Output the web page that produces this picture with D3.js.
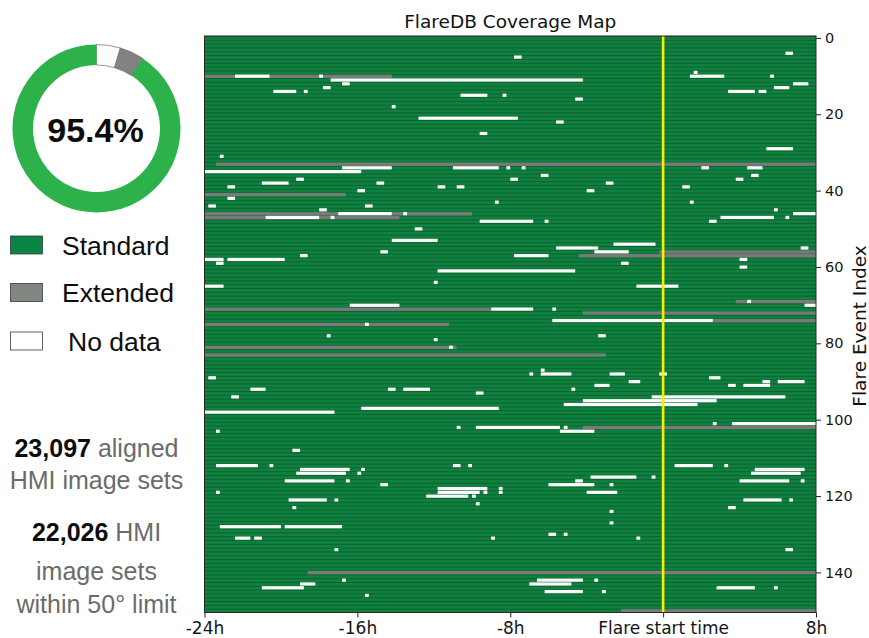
<!DOCTYPE html>
<html>
<head>
<meta charset="utf-8">
<script src="https://cdn.jsdelivr.net/npm/d3@7"></script>
<style>
  html, body { margin: 0; padding: 0; background: #ffffff; }
  svg { display: block; }
</style>
</head>
<body>
<script>
// ---- Coverage data -------------------------------------------------------
const rowCount = 151;                 // flare events, index 0..150
const hourDomain = [-24, 8];          // hours relative to flare start

const xTickValues = [-24, -16, -8, 0, 8];
const xTickLabels = ["-24h", "-16h", "-8h", "Flare start time", "8h"];
const yTickValues = [0, 20, 40, 60, 80, 100, 120, 140];

// [event index, start hour, end hour] — extended-window coverage
const extendedSegments = [
  [10, -24, -14.2],
  [33, -23.4, 8],
  [41, -24, -16.6],
  [46, -24, -10.0],
  [47, -24, -13.8],
  [56, -0.2, 8],
  [57, -4.4, 8],
  [69, 3.8, 8],
  [71, -24, -9.0],
  [72, -4.2, 8],
  [74, 2.6, 8],
  [75, -24, -11.2],
  [81, -24, -10.8],
  [83, -24, -3.0],
  [102, -4.2, 8],
  [140, -18.6, 8],
  [150, -2.2, 8]
];

// [event index, start hour, end hour] — gaps with no data
const noDataSegments = [
  [4, 6.4, 6.8],
  [5, -7.8, -7.4],
  [9, 1.6, 1.8],
  [10, -22.4, -20.6], [10, -18.0, -17.8], [10, 1.4, 3.2], [10, 5.6, 5.8],
  [11, -17.4, -4.2],
  [12, -16.8, -16.4], [12, 6.8, 7.6],
  [13, -17.8, -17.4], [13, 5.8, 6.6],
  [14, -20.4, -19.2], [14, -18.8, -18.6], [14, 3.4, 4.8], [14, 5.0, 5.4],
  [15, -10.6, -9.2], [15, -8.4, -8.2],
  [16, -4.6, -4.2],
  [18, -14.2, -14.0],
  [21, -12.8, -7.6],
  [22, -5.6, -5.2],
  [25, -9.6, -9.2],
  [29, 5.4, 6.8],
  [31, -23.2, -23.0],
  [34, -16.8, -14.2], [34, -11.0, -8.6], [34, -8.2, -8.0], [34, -7.4, -7.2], [34, 2.0, 2.4], [34, 4.4, 5.2],
  [35, -24, -15.8],
  [36, -6.4, -6.0], [36, 4.6, 5.0],
  [37, -19.2, -18.8], [37, -8.0, -7.6], [37, 3.8, 4.2],
  [38, -21.0, -19.6], [38, -15.0, -14.6], [38, -3.0, -2.6],
  [39, -22.8, -22.4], [39, -11.8, -11.4], [39, -10.8, -10.4], [39, 1.0, 1.4],
  [40, -16.0, -15.6], [40, -4.0, -3.6],
  [42, -22.8, -22.4],
  [43, -8.8, -8.6], [43, 1.4, 1.6],
  [44, -23.8, -23.4], [44, -15.6, -15.2],
  [45, -18.0, -17.6], [45, 5.8, 6.0],
  [46, -17.0, -14.2], [46, -13.6, -13.4], [46, 6.8, 8],
  [47, -20.8, -18.0], [47, -17.4, -17.2], [47, 3.0, 5.8], [47, 6.4, 6.6],
  [48, -9.6, -6.8], [48, -6.2, -6.0], [48, 2.4, 2.8],
  [50, -13.0, -12.6],
  [53, -14.2, -11.8],
  [54, -2.6, -0.4],
  [55, -5.6, -3.4], [55, 7.2, 7.6],
  [56, -14.8, -14.4], [56, -3.6, -1.8],
  [57, -19.0, -18.6], [57, -7.8, -6.0],
  [58, -24, -23.0], [58, -22.8, -19.8], [58, 4.0, 4.4],
  [59, -23.4, -23.0], [59, -2.2, -1.8],
  [60, 4.0, 4.4],
  [61, -11.8, -4.6],
  [64, -12.0, -11.8],
  [65, -24, -23.0], [65, -1.4, 0.8],
  [69, 4.4, 4.6],
  [70, -16.4, -13.8], [70, 7.4, 8],
  [71, -9.0, -6.8], [71, -5.8, -5.6],
  [74, -5.8, 2.6],
  [75, -15.6, -15.4],
  [78, -17.6, -17.4], [78, -3.4, -3.0],
  [79, -12.0, -11.8],
  [81, -11.2, -11.0],
  [87, -6.4, -6.2],
  [88, -7.0, -6.8], [88, -6.4, -4.8], [88, -2.8, -2.0], [88, -0.2, 0.2],
  [89, -23.8, -23.4], [89, 2.4, 3.0],
  [90, -1.8, -1.2], [90, 5.2, 5.6], [90, 6.0, 7.4],
  [91, -3.6, -2.8], [91, 3.4, 3.8], [91, 4.2, 5.6],
  [92, -21.6, -20.8], [92, -14.4, -14.0], [92, -13.6, -12.2], [92, -4.8, -4.6],
  [93, -9.8, -9.4],
  [94, -22.6, -22.2], [94, -0.6, 6.4],
  [95, -4.2, 2.8],
  [96, -5.2, 1.8],
  [97, -15.8, -8.6],
  [98, -24, -17.2],
  [101, 2.6, 2.8], [101, 3.6, 8],
  [102, -10.8, -10.6], [102, -9.8, -5.4], [102, -5.2, -5.0],
  [103, -23.4, -23.2], [103, -5.4, -3.6],
  [108, -19.4, -19.0],
  [112, -23.4, -21.2], [112, -20.6, -20.4], [112, -11.0, -10.6], [112, -10.2, -10.0], [112, 0.6, 2.6], [112, 3.2, 3.4],
  [113, -19.0, -16.4], [113, -15.8, -15.6], [113, 4.8, 7.4],
  [114, -19.2, -16.6], [114, -16.0, -15.8], [114, 4.6, 7.2],
  [115, -3.8, -1.4], [115, -0.6, -0.4],
  [116, -19.8, -17.2], [116, -16.6, -16.4], [116, -4.6, -4.2], [116, 4.0, 6.6], [116, 7.2, 7.4],
  [117, -14.8, -14.4], [117, -6.0, -3.6], [117, -2.8, -2.6],
  [118, -11.8, -9.2], [118, -8.6, -8.4],
  [119, -23.4, -23.2], [119, -11.8, -9.6], [119, -9.4, -9.2], [119, -8.6, -8.4], [119, -4.0, -2.4],
  [120, -12.4, -10.2], [120, -10.0, -9.8],
  [121, -19.6, -17.6], [121, -17.2, -17.0], [121, 4.2, 6.2], [121, 6.6, 6.8],
  [122, -9.8, -9.6],
  [123, -19.4, -19.2], [123, 3.4, 3.8],
  [124, -2.8, -2.6],
  [127, -2.8, -2.6],
  [128, -23.2, -20.0], [128, -19.8, -16.8],
  [130, -6.0, -5.6], [130, -5.2, -5.0],
  [131, -22.4, -21.6], [131, -21.4, -21.0], [131, -9.0, -8.8], [131, -1.4, -1.2],
  [134, -17.2, -17.0], [134, 6.4, 6.8],
  [142, -16.8, -16.6], [142, -6.6, -4.2], [142, -3.6, -3.4],
  [143, -19.0, -18.2], [143, -7.0, -4.8],
  [144, -21.0, -18.8], [144, 2.8, 4.8], [144, 5.8, 6.0],
  [145, -6.2, -4.2], [145, -3.2, -3.0],
  [146, -15.6, -15.4]
];

// Summary ring: shares of the full window (percent)
const donutLabels = ["No data", "Extended", "Standard"];
const donutShares = [4.6, 4.7, 90.7];
const coverageText = "95.4%";

const legendLabels = ["Standard", "Extended", "No data"];

// ---- Drawing ---------------------------------------------------------------
const W = 869, H = 638;
const svg = d3.select("body").append("svg").attr("width", W).attr("height", H);
svg.append("rect").attr("width", W).attr("height", H).attr("fill", "#ffffff");

const plot = { left: 204.5, right: 816, top: 36, bottom: 612.5 };

const x = d3.scaleLinear().domain(hourDomain).range([plot.left, plot.right]);
const y = d3.scaleBand().domain(d3.range(rowCount)).range([plot.top, plot.bottom]);
const bw = y.bandwidth();
const yIndex = d3.scaleLinear()
  .domain([0, rowCount - 1])
  .range([y(0) + bw / 2, y(rowCount - 1) + bw / 2]);

const colors = {
  standard: "#10803f",
  rowLine: "#0a6330",
  extended: "#7a7a7a",
  noData: "#fbfbfb",
  ringStandard: "#2cb14b",
  ringExtended: "#828282",
  legendStandard: "#0a8443",
  legendExtended: "#7e8880"
};

// heatmap background: darker separators between event rows
const heat = svg.append("g");
heat.append("rect")
  .attr("x", plot.left).attr("y", plot.top)
  .attr("width", plot.right - plot.left).attr("height", plot.bottom - plot.top)
  .attr("fill", colors.rowLine);

heat.append("g").selectAll("rect")
  .data(d3.range(rowCount))
  .join("rect")
  .attr("x", plot.left)
  .attr("y", d => y(d) + 1.0)
  .attr("width", plot.right - plot.left)
  .attr("height", bw - 1.0)
  .attr("fill", colors.standard);

heat.append("g").selectAll("rect")
  .data(extendedSegments)
  .join("rect")
  .attr("x", d => x(d[1]))
  .attr("y", d => y(d[0]) + 0.5)
  .attr("width", d => x(d[2]) - x(d[1]))
  .attr("height", bw - 0.5)
  .attr("fill", colors.extended);

heat.append("g").selectAll("rect")
  .data(noDataSegments)
  .join("rect")
  .attr("x", d => x(d[1]))
  .attr("y", d => y(d[0]) + 0.4)
  .attr("width", d => x(d[2]) - x(d[1]))
  .attr("height", bw - 0.6)
  .attr("fill", colors.noData);

// flare start marker
svg.append("line")
  .attr("x1", x(0)).attr("x2", x(0))
  .attr("y1", plot.top).attr("y2", plot.bottom)
  .attr("stroke", "#f4ee00").attr("stroke-width", 2.6);

// frame
svg.append("rect")
  .attr("x", plot.left).attr("y", plot.top)
  .attr("width", plot.right - plot.left).attr("height", plot.bottom - plot.top)
  .attr("fill", "none").attr("stroke", "#2a2a2a").attr("stroke-width", 1);

// x axis
const xAxis = svg.append("g")
  .attr("transform", `translate(0,${plot.bottom})`)
  .call(d3.axisBottom(x).tickValues(xTickValues)
    .tickFormat((d, i) => xTickLabels[i]).tickSize(5));
xAxis.select(".domain").remove();
xAxis.selectAll(".tick line").attr("stroke", "#222").attr("stroke-width", 1);
xAxis.selectAll(".tick text")
  .attr("y", 21.5).attr("dy", null)
  .attr("fill", "#151515")
  .style("font-family", "'DejaVu Sans', sans-serif")
  .style("font-size", "17px");

// y axis (right side)
const yAxis = svg.append("g")
  .attr("transform", `translate(${plot.right},0)`)
  .call(d3.axisRight(yIndex).tickValues(yTickValues).tickSize(5).tickPadding(4));
yAxis.select(".domain").remove();
yAxis.selectAll(".tick line").attr("stroke", "#222").attr("stroke-width", 1);
yAxis.selectAll(".tick text")
  .attr("fill", "#151515")
  .style("font-family", "'DejaVu Sans', sans-serif")
  .style("font-size", "14.5px");

svg.append("text")
  .attr("transform", `translate(866,326) rotate(-90)`)
  .attr("text-anchor", "middle")
  .attr("fill", "#111")
  .style("font-family", "'DejaVu Sans', sans-serif")
  .style("font-size", "18.5px")
  .text("Flare Event Index");

svg.append("text")
  .attr("x", (plot.left + plot.right) / 2).attr("y", 28)
  .attr("text-anchor", "middle")
  .attr("fill", "#111")
  .style("font-family", "'DejaVu Sans', sans-serif")
  .style("font-size", "18.5px")
  .text("FlareDB Coverage Map");

// ---- Left panel: ring summary, legend, counts ------------------------------
const ringColors = [colors.noData, colors.ringExtended, colors.ringStandard];
const pie = d3.pie().sort(null).value(d => d);
const arc = d3.arc().innerRadius(63.5).outerRadius(84);
const ring = svg.append("g").attr("transform", "translate(96.5,128.5)");
ring.selectAll("path")
  .data(pie(donutShares))
  .join("path")
  .attr("d", arc)
  .attr("fill", (d, i) => ringColors[i])
  .attr("stroke", (d, i) => i === 2 ? "none" : "#6c6c6c")
  .attr("stroke-width", 0.7);
ring.append("text")
  .attr("x", -1).attr("y", 13)
  .attr("text-anchor", "middle")
  .attr("fill", "#0d0d0d")
  .style("font-family", "'Liberation Sans', Arial, sans-serif")
  .style("font-weight", "bold")
  .style("font-size", "34px")
  .text(coverageText);

const legendFill = [colors.legendStandard, colors.legendExtended, "#ffffff"];
const legendY = [236, 283.5, 332];
const legendTextX = [62, 62, 68];
const legend = svg.append("g");
legend.selectAll("rect")
  .data(legendLabels)
  .join("rect")
  .attr("x", 10.5).attr("y", (d, i) => legendY[i])
  .attr("width", 32).attr("height", 18)
  .attr("fill", (d, i) => legendFill[i])
  .attr("stroke", "#3a3a3a").attr("stroke-width", 0.8);
legend.selectAll("text")
  .data(legendLabels)
  .join("text")
  .attr("x", (d, i) => legendTextX[i])
  .attr("y", (d, i) => legendY[i] + 18.5)
  .attr("fill", "#0d0d0d")
  .style("font-family", "'Liberation Sans', Arial, sans-serif")
  .style("font-size", "26.5px")
  .text(d => d);

// count captions: bold figure followed by grey description
const captionLines = [
  { y: 457, bold: "23,097", rest: " aligned" },
  { y: 488.5, bold: "", rest: "HMI image sets" },
  { y: 541, bold: "22,026", rest: " HMI" },
  { y: 579.5, bold: "", rest: "image sets" },
  { y: 612.5, bold: "", rest: "within 50\u00b0 limit" }
];
const captions = svg.append("g")
  .style("font-family", "'Liberation Sans', Arial, sans-serif")
  .style("font-size", "25px");
captionLines.forEach(line => {
  const t = captions.append("text")
    .attr("x", 96.5).attr("y", line.y)
    .attr("text-anchor", "middle");
  if (line.bold) {
    t.append("tspan").attr("font-weight", "bold").attr("fill", "#0d0d0d").text(line.bold);
  }
  t.append("tspan").attr("fill", "#6b6b6b").text(line.rest);
});
</script>
</body>
</html>
